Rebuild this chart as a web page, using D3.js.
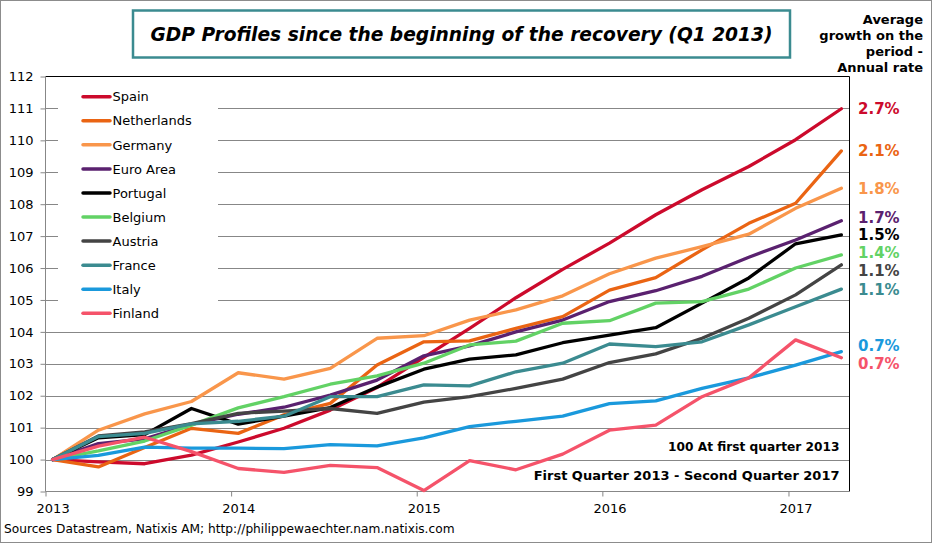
<!DOCTYPE html>
<html><head><meta charset="utf-8">
<script src="https://cdn.jsdelivr.net/npm/d3@7"></script>
<style>
body{margin:0;background:#fff}
svg{display:block}
text{font-family:"DejaVu Sans",Verdana,sans-serif}
</style>
</head><body><svg id="c" width="935" height="545"></svg>
<script>
// ---------- DATA ----------
const quarters = ["2013-01-15","2013-04-15","2013-07-15","2013-10-15",
  "2014-01-15","2014-04-15","2014-07-15","2014-10-15",
  "2015-01-15","2015-04-15","2015-07-15","2015-10-15",
  "2016-01-15","2016-04-15","2016-07-15","2016-10-15",
  "2017-01-15","2017-04-15"];
const seriesNames = ["Spain","Netherlands","Germany","Euro Area","Portugal","Belgium","Austria","France","Italy","Finland"];
const spain       = [100, 99.93, 99.87, 100.14, 100.55, 100.98, 101.55, 102.26, 103.2, 104.11, 105.07, 105.96, 106.78, 107.67, 108.45, 109.18, 110.02, 110.99];
const netherlands = [100, 99.77, 100.38, 100.98, 100.82, 101.4, 101.76, 102.96, 103.69, 103.72, 104.11, 104.48, 105.31, 105.7, 106.57, 107.4, 108.03, 109.67];
const germany     = [100, 100.92, 101.43, 101.82, 102.72, 102.52, 102.86, 103.8, 103.88, 104.37, 104.69, 105.13, 105.82, 106.31, 106.67, 107.06, 107.87, 108.5];
const euroArea    = [100, 100.5, 100.65, 101.1, 101.42, 101.64, 102.02, 102.49, 103.25, 103.56, 104.0, 104.37, 104.95, 105.29, 105.74, 106.34, 106.88, 107.48];
const portugal    = [100, 100.68, 100.78, 101.6, 101.11, 101.36, 101.63, 102.27, 102.83, 103.15, 103.28, 103.66, 103.9, 104.13, 104.9, 105.69, 106.76, 107.04];
const belgium     = [100, 100.27, 100.58, 101.08, 101.62, 101.97, 102.36, 102.62, 103.02, 103.59, 103.71, 104.27, 104.35, 104.9, 104.95, 105.34, 106.0, 106.41];
const austria     = [100, 100.74, 100.87, 101.13, 101.45, 101.52, 101.6, 101.45, 101.8, 101.97, 102.23, 102.52, 103.04, 103.31, 103.8, 104.43, 105.16, 106.1];
const france      = [100, 100.72, 100.82, 101.12, 101.2, 101.36, 101.97, 101.97, 102.34, 102.31, 102.75, 103.02, 103.62, 103.54, 103.69, 104.22, 104.79, 105.34];
const italy       = [100, 100.13, 100.39, 100.36, 100.36, 100.34, 100.47, 100.43, 100.68, 101.03, 101.2, 101.36, 101.75, 101.84, 102.23, 102.56, 102.96, 103.38];
const finland     = [100, 100.42, 100.7, 100.25, 99.72, 99.6, 99.82, 99.75, 99.03, 99.97, 99.68, 100.17, 100.92, 101.08, 101.97, 102.56, 103.75, 103.19];
const growthLabels = ["2.7%","2.1%","1.8%","1.7%","1.5%","1.4%","1.1%","1.1%","0.7%","0.7%"];
const yTicks = [99,100,101,102,103,104,105,106,107,108,109,110,111,112];
const yearTicks = [2013,2014,2015,2016,2017];
const titleText = "GDP Profiles since the beginning of the recovery (Q1 2013)";
const headerLines = ["Average","growth on the","period -","Annual rate"];
const noteLines = ["100 At first quarter 2013","First Quarter 2013 - Second Quarter 2017"];
const sourceText = "Sources Datastream, Natixis AM; http://philippewaechter.nam.natixis.com";

// ---------- STYLE ----------
const colors = ["#cc0a2c","#ea6413","#f9964b","#5a216f","#000000","#62d265","#444444","#3b8b90","#1a99dc","#f5536a"];
const allValues = [spain,netherlands,germany,euroArea,portugal,belgium,austria,france,italy,finland];

const svg = d3.select("#c");
svg.append("rect").attr("x",0).attr("y",0).attr("width",935).attr("height",545).attr("fill","#fff");
svg.append("rect").attr("x",0.5).attr("y",0.5).attr("width",931).attr("height",542)
  .attr("fill","none").attr("stroke","#8c8c8c");

const parse = d3.timeParse("%Y-%m-%d");
const dates = quarters.map(parse);
const x = d3.scaleTime().domain([new Date(2013,0,1), new Date(2017,4,1)]).range([45.5, 849.5]);
const y = d3.scaleLinear().domain([99,112]).range([491.5, 76.5]);
const gridColor = "#878787";

// gridlines
svg.append("g").selectAll("line").data(yTicks.filter(v=>v>99 && v<112)).join("line")
  .attr("x1",45.5).attr("x2",849.5)
  .attr("y1",d=>Math.round(y(d))+0.5).attr("y2",d=>Math.round(y(d))+0.5)
  .attr("stroke",gridColor).attr("stroke-width",1);
// top and right frame
svg.append("path").attr("d",`M45.5,${y(112)}H${x.range()[1]}V${y(99)}`)
  .attr("fill","none").attr("stroke","#000").attr("stroke-width",1);

// legend background
svg.append("rect").attr("x",58).attr("y",80).attr("width",160).attr("height",246).attr("fill","#fff");

// axes
const yAxis = svg.append("g").attr("transform","translate(45.5,0)")
  .call(d3.axisLeft(y).tickValues(yTicks).tickSize(5).tickPadding(7).tickFormat(d3.format("d")));
yAxis.selectAll("path,line").attr("stroke",gridColor);
yAxis.selectAll("text").attr("font-size",13).attr("fill","#000").style("font-family","'DejaVu Sans',Verdana,sans-serif");
yAxis.select(".domain").attr("d",`M0,${y(112)}V${y(99)}`);

const xAxis = svg.append("g").attr("transform",`translate(0,${y(99)})`)
  .call(d3.axisBottom(x).tickValues(yearTicks.map(yr=>new Date(yr,0,1))).tickSize(5).tickPadding(7).tickFormat(d3.timeFormat("%Y")));
xAxis.selectAll("path,line").attr("stroke",gridColor);
xAxis.select(".domain").attr("d",`M${x.range()[0]},0H${x.range()[1]}`);
xAxis.selectAll("text").attr("font-size",13).attr("fill","#000").style("font-family","'DejaVu Sans',Verdana,sans-serif")
  .attr("dx", d => x(new Date(d.getFullYear(),0,15)) - x(d));

// lines
const line = d3.line().x((d,i)=>x(dates[i])).y(d=>y(d));
svg.append("g").selectAll("path").data(allValues).join("path")
  .attr("d",line).attr("fill","none")
  .attr("stroke",(d,i)=>colors[i]).attr("stroke-width",3.3)
  .attr("stroke-linejoin","round").attr("stroke-linecap","round");

// legend
const lg = svg.append("g").selectAll("g").data(seriesNames).join("g")
  .attr("transform",(d,i)=>`translate(0,${96.7 + i*24.07})`);
lg.append("line").attr("x1",83).attr("x2",110).attr("y1",0).attr("y2",0)
  .attr("stroke",(d,i)=>colors[i]).attr("stroke-width",3.5).attr("stroke-linecap","round");
lg.append("text").attr("x",112.5).attr("y",0).attr("dy","0.36em").attr("font-size",13).text(d=>d);

// right growth labels with simple collision avoidance
let labs = allValues.map((v,i)=>({i, y:y(v[v.length-1])}));
labs.sort((a,b)=>a.y-b.y);
const gap = 17.8;
for (let it=0; it<80; it++) {
  for (let k=1;k<labs.length;k++){
    const d = labs[k].y - labs[k-1].y;
    if (d < gap) { const s=(gap-d)/2; labs[k].y+=s; labs[k-1].y-=s; }
  }
}
svg.append("g").selectAll("text").data(labs).join("text")
  .attr("x",858).attr("y",d=>d.y).attr("dy","0.36em")
  .attr("font-size",15).attr("font-weight","bold")
  .attr("fill",d=>colors[d.i]).text(d=>growthLabels[d.i]);

// header at right
svg.append("g").selectAll("text").data(headerLines).join("text")
  .attr("x",923).attr("y",(d,i)=>24+i*16).attr("text-anchor","end")
  .attr("font-size",13).attr("font-weight","bold").attr("fill","#000").text(d=>d);

// title box
svg.append("rect").attr("x",133).attr("y",10.5).attr("width",657).attr("height",47)
  .attr("fill","#fff").attr("stroke","#3b8b90").attr("stroke-width",2.5);
svg.append("text").attr("x",461.5).attr("y",41).attr("text-anchor","middle")
  .attr("font-size",20).attr("font-weight","bold").attr("font-style","italic")
  .attr("textLength",622).attr("lengthAdjust","spacingAndGlyphs").text(titleText);

// notes
svg.append("g").selectAll("text").data(noteLines).join("text")
  .attr("x",839.5).attr("y",(d,i)=>[451,480][i]).attr("text-anchor","end")
  .attr("font-size",(d,i)=>[12.2,13][i]).attr("font-weight","bold").attr("fill","#000").text(d=>d);

// source
svg.append("text").attr("x",4).attr("y",533).attr("font-size",12.2).attr("fill","#000").text(sourceText);
</script>
</body></html>
